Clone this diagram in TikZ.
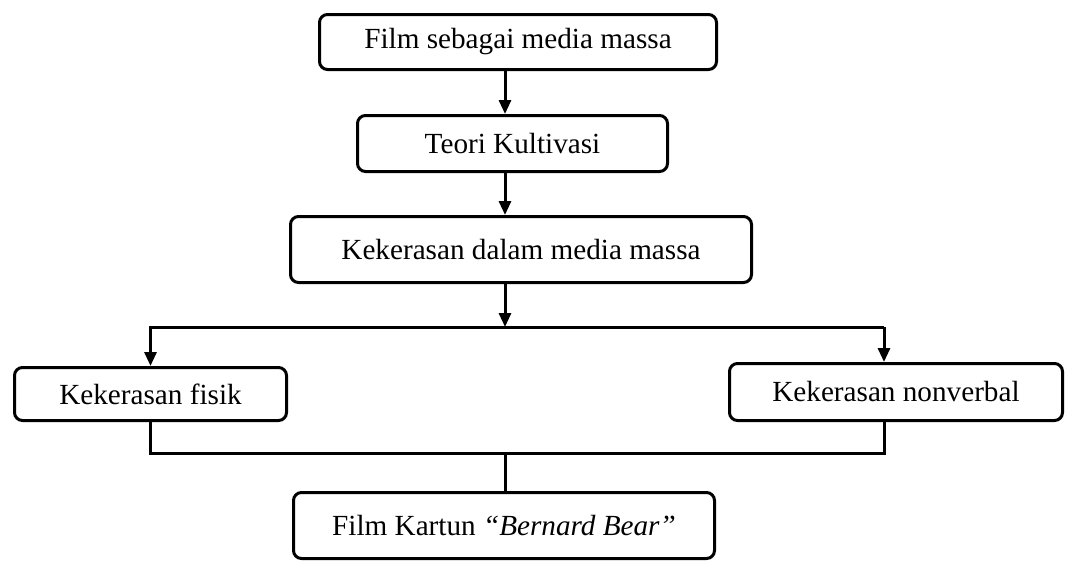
\documentclass[tikz,border=0pt]{standalone}
\usepackage{fontspec}
\setmainfont{Liberation Serif}
\usetikzlibrary{arrows.meta}

\tikzstyle{kotak} = [rectangle, draw, line width=1.5pt, rounded corners=4pt,
    text centered, inner sep=0pt, font=\fontsize{14.6}{17}\selectfont]
\tikzstyle{garis} = [line width=1.5pt]
\tikzstyle{panah} = [garis, -{Triangle[width=6pt,length=7pt]}]

\begin{document}
\begin{tikzpicture}[x=0.5pt, y=-0.5pt]
	\useasboundingbox (0,0) rectangle (1066,563);
	\node [kotak, minimum width=198.5pt, minimum height=27.5pt] (film) at (518,42) {Film sebagai media massa};
	\node [kotak, minimum width=155pt, minimum height=28pt] (teori) at (512.5,143.5) {Teori Kultivasi};
	\node [kotak, minimum width=230.5pt, minimum height=33pt] (media) at (521,249.5) {Kekerasan dalam media massa};
	%
	\node [kotak, minimum width=136pt, minimum height=26.5pt] (fisik) at (150.5,394) {Kekerasan fisik};
	\node [kotak, minimum width=166.5pt, minimum height=28.5pt] (nonverbal) at (896,392) {Kekerasan nonverbal};
	%
	\node [kotak, minimum width=210.5pt, minimum height=33pt] (kartun) at (504,525.5) {Film Kartun \textit{“Bernard Bear”}};
	%
	\coordinate (cabang) at (505,327);
	\coordinate (kanan) at (884,327);
	\coordinate (bawah) at (505,453);
	%
	\draw [panah] (film.south -| cabang) -- (teori.north -| cabang);
	\draw [panah] (teori.south -| cabang) -- (media.north -| cabang);
	\draw [panah] (media.south -| cabang) -- (cabang);
	\draw [panah] (cabang) -| (fisik.north);
	\draw [garis] (cabang) -- (kanan);
	\draw [panah] (kanan) -- (kanan |- nonverbal.north);
	%
	\draw [garis] (fisik.south) |- (bawah) -| (kanan |- nonverbal.south);
	\draw [garis] (bawah) -- (kartun.north -| bawah);
\end{tikzpicture}
\end{document}
